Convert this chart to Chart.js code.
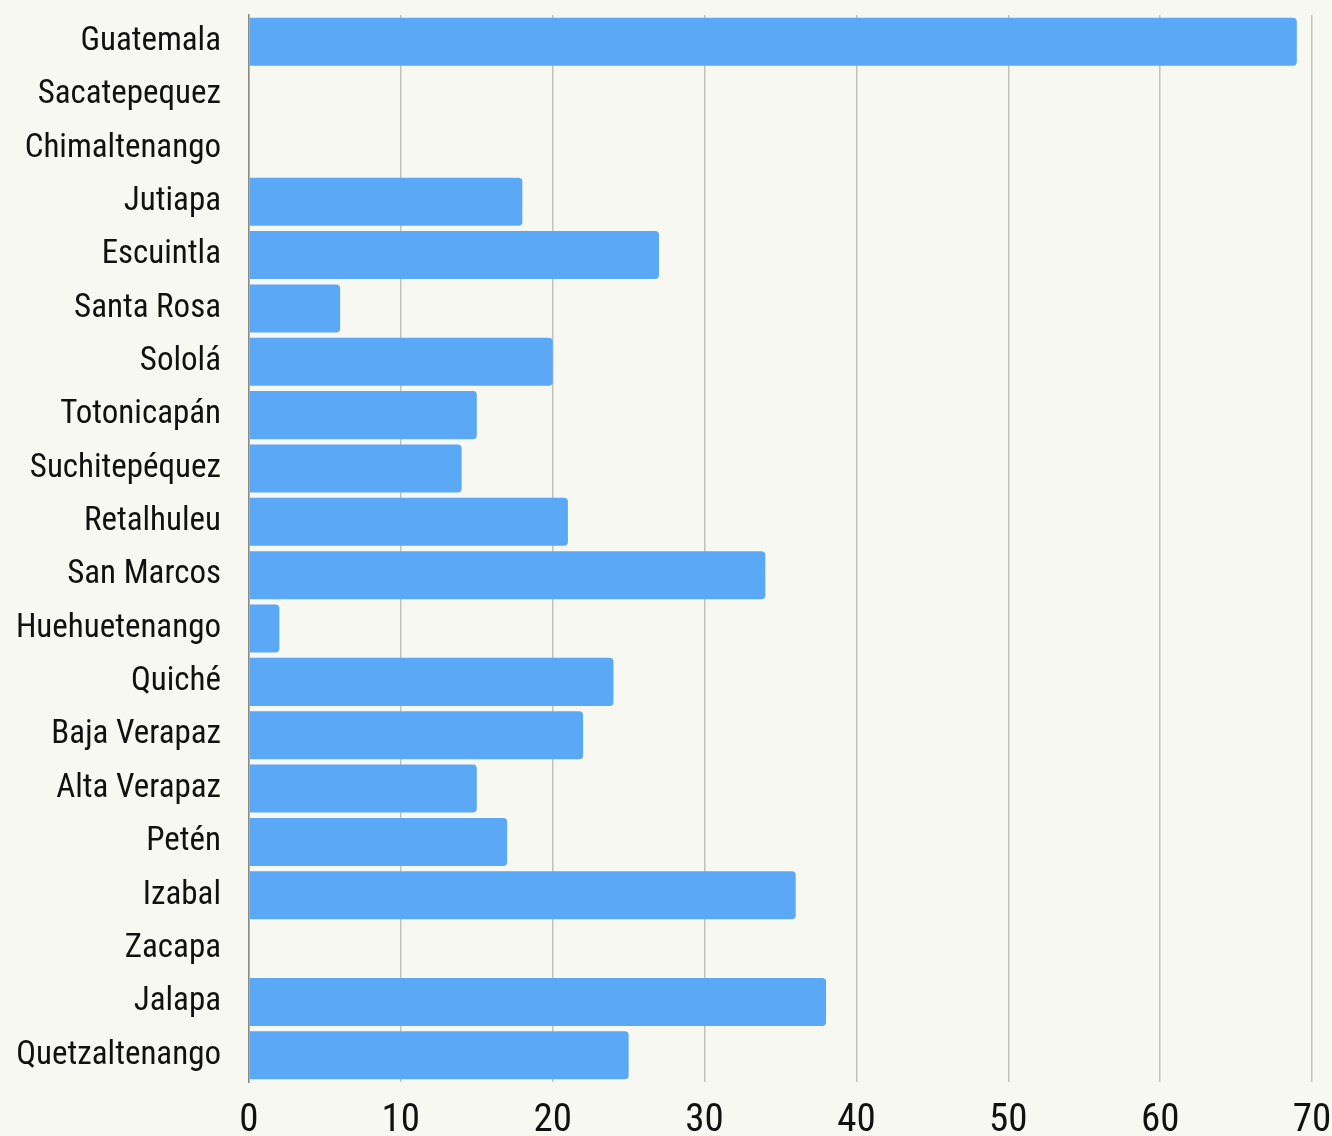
<!DOCTYPE html>
<html>
<head>
<meta charset="utf-8">
<script src="https://cdn.jsdelivr.net/npm/chart.js@4/dist/chart.umd.min.js"></script>
<style>
  html, body { margin: 0; padding: 0; background: #f8f8f2; }
  #wrap { width: 1332px; height: 1136px; }
</style>
</head>
<body>
<div id="wrap"><canvas id="myChart" width="1332" height="1136"></canvas></div>
<script>
// departments, top to bottom
var departments = ["Guatemala", "Sacatepequez", "Chimaltenango", "Jutiapa", "Escuintla",
  "Santa Rosa", "Sololá", "Totonicapán", "Suchitepéquez", "Retalhuleu", "San Marcos",
  "Huehuetenango", "Quiché", "Baja Verapaz", "Alta Verapaz", "Petén", "Izabal",
  "Zacapa", "Jalapa", "Quetzaltenango"];
var counts = [69, 0, 0, 18, 27, 6, 20, 15, 14, 21, 34, 2, 24, 22, 15, 17, 36, 0, 38, 25];
var xMin = 0, xMax = 70, xStep = 10;

var fam = "'Roboto Condensed', 'DejaVu Sans Condensed', sans-serif";

new Chart("myChart", {
    type: "bar",
    data: {
        labels: departments,
        datasets: [{
            data: counts,
            backgroundColor: "#5aa8f6",
            borderWidth: 0,
            borderRadius: 4,
            borderSkipped: "start",
            barPercentage: 0.9,
            categoryPercentage: 1.0
        }]
    },
    options: {
        indexAxis: "y",
        responsive: false,
        animation: false,
        layout: { padding: { top: 15, right: 20, left: 0, bottom: 0 } },
        plugins: { legend: { display: false }, tooltip: { enabled: false } },
        scales: {
            x: {
                min: xMin, max: xMax,
                ticks: { stepSize: xStep, color: "#111", font: { family: fam, size: 39 }, padding: 16 },
                grid: { color: "#c2c2bc", lineWidth: 1.5, drawTicks: false },
                border: { display: false },
                afterFit: function(scale) {
                    scale.height = 54;
                    scale.paddingLeft = 0;
                    scale.paddingRight = 0;
                }
            },
            y: {
                ticks: { color: "#111", font: { family: fam, size: 33 }, padding: 28 },
                grid: { display: false, drawTicks: false },
                border: { display: true, color: "#8a8a80", width: 1.5 },
                afterFit: function(scale) {
                    scale.width = 249;
                    scale.paddingTop = 0;
                    scale.paddingBottom = 0;
                }
            }
        }
    }
});
</script>
</body>
</html>
